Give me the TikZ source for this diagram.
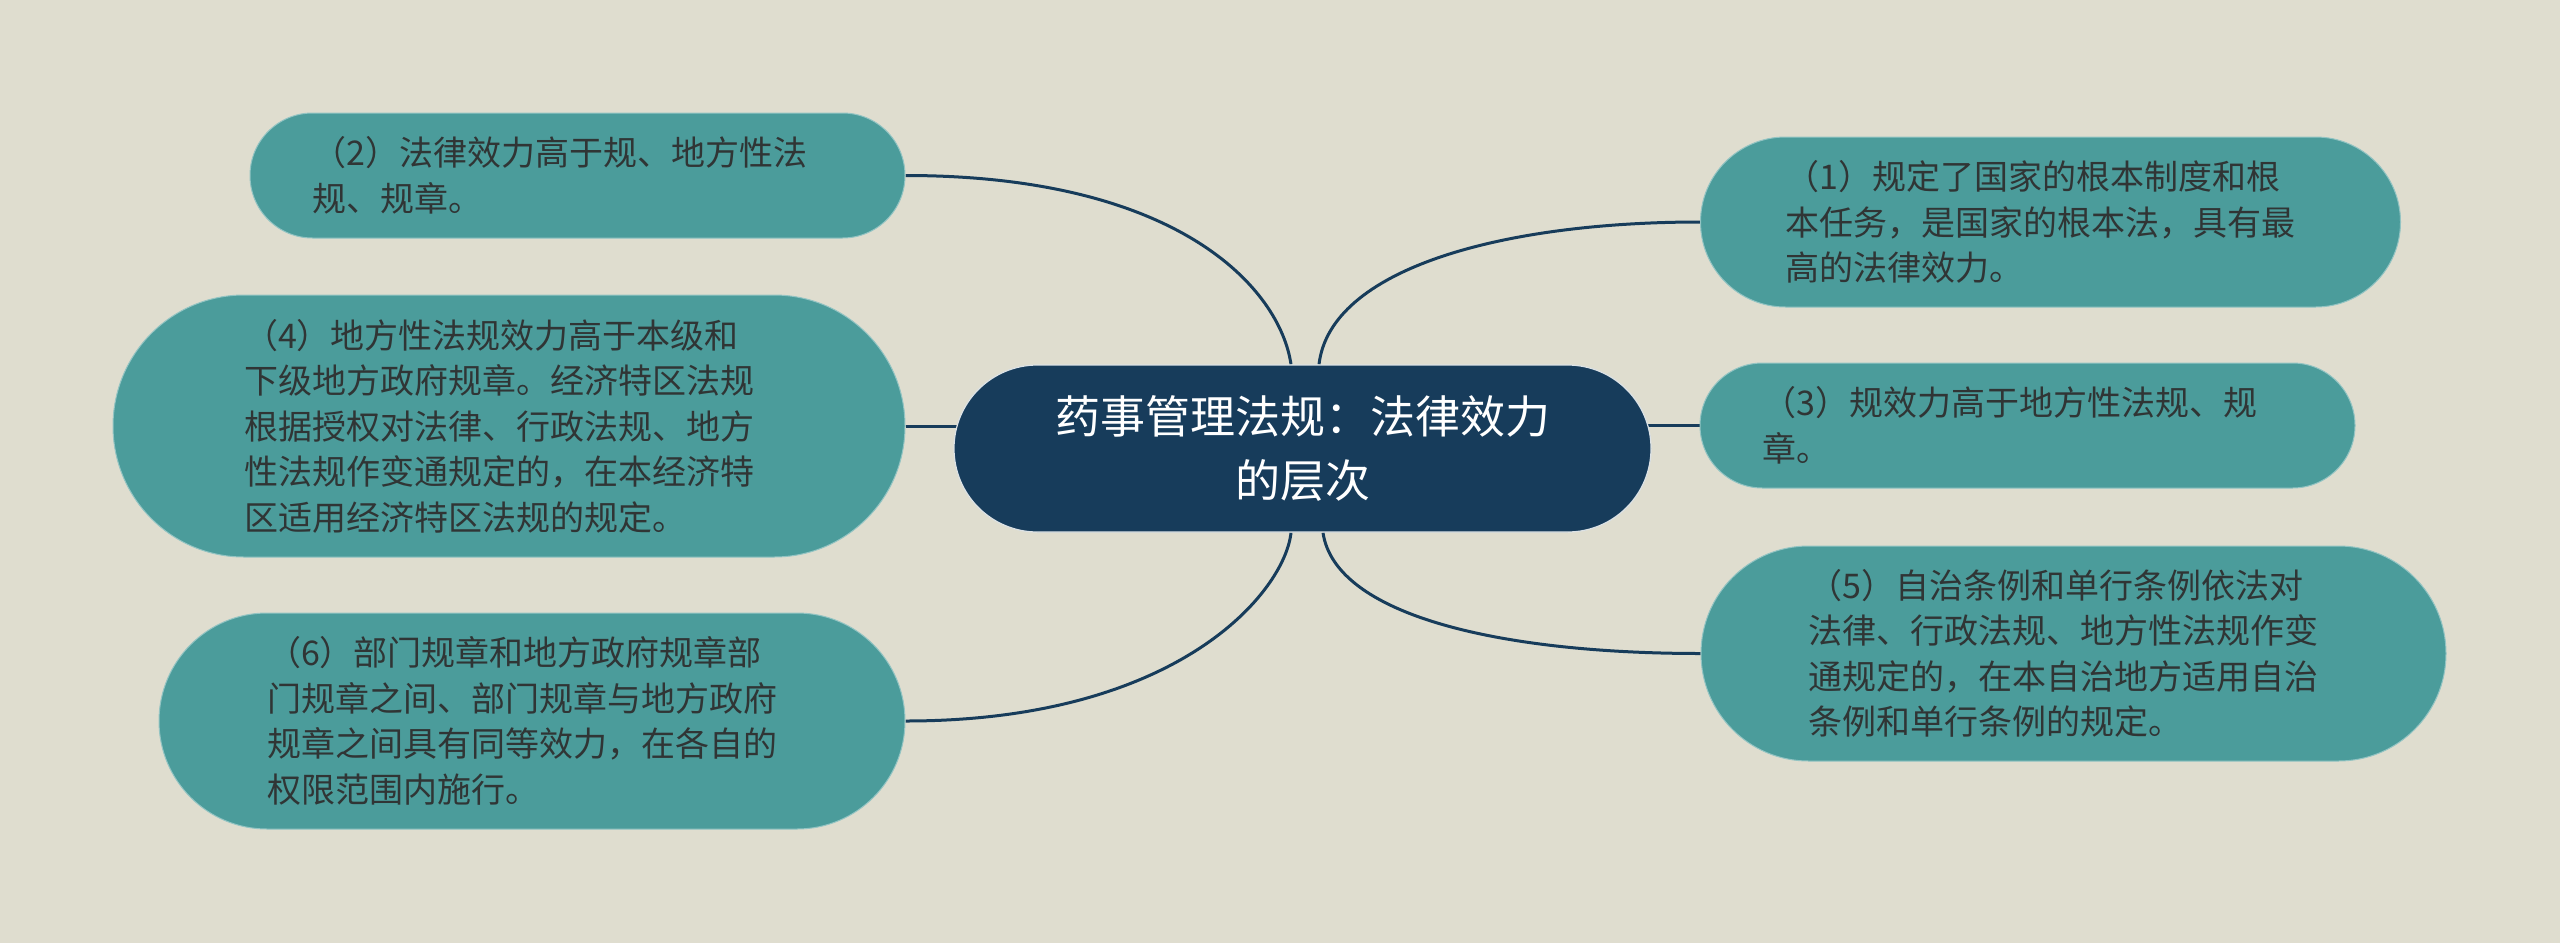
\documentclass[tikz,border=0pt]{standalone}
\usepackage{fontspec}
\newfontfamily\cjk{Noto Sans CJK SC}
\usetikzlibrary{shapes.misc,backgrounds}
\definecolor{bg}{HTML}{DFDDCF}
\definecolor{teal1}{HTML}{4B9C9B}
\definecolor{navy}{HTML}{173C5B}
\definecolor{txt}{HTML}{303535}
\tikzset{
  leaf/.style={rounded rectangle, fill=teal1, draw=teal1!60!white, line width=1pt,
    inner xsep=0pt, inner ysep=0pt, text width=530pt, align=left,
    font=\cjk\fontsize{34}{45.5}\selectfont, text=txt},
  hub/.style={rounded rectangle, fill=navy, draw=white!85!navy, line width=1.2pt,
    inner xsep=0pt, inner ysep=0pt, text width=530pt, align=center,
    font=\cjk\fontsize{45}{64}\selectfont, text=white,
    minimum height=167pt, minimum width=697pt},
  link/.style={draw=navy, line width=3pt}
}
\begin{document}
\begin{tikzpicture}[x=1pt,y=-1pt]
\useasboundingbox (0,0) rectangle (2560,943);

\node[hub] (c) at (1302.5,448.5) {药事管理法规：法律效力\\的层次};

\node[leaf, minimum height=125pt, minimum width=655pt] (n2) at (577.5,175.5)
  {（2）法律效力高于规、地方性法\\规、规章。};
\node[leaf, minimum height=262pt, minimum width=792pt] (n4) at (509,426)
  {（4）地方性法规效力高于本级和\\下级地方政府规章。经济特区法规\\根据授权对法律、行政法规、地方\\性法规作变通规定的，在本经济特\\区适用经济特区法规的规定。};
\node[leaf, minimum height=216pt, minimum width=746pt] (n6) at (532,721)
  {（6）部门规章和地方政府规章部\\门规章之间、部门规章与地方政府\\规章之间具有同等效力，在各自的\\权限范围内施行。};
\node[leaf, minimum height=170pt, minimum width=700pt] (n1) at (2050.5,222)
  {（1）规定了国家的根本制度和根\\本任务，是国家的根本法，具有最\\高的法律效力。};
\node[leaf, minimum height=125pt, minimum width=655pt] (n3) at (2027.5,425.5)
  {（3）规效力高于地方性法规、规\\章。};
\node[leaf, minimum height=215pt, minimum width=745pt] (n5) at (2073.5,653.5)
  {（5）自治条例和单行条例依法对\\法律、行政法规、地方性法规作变\\通规定的，在本自治地方适用自治\\条例和单行条例的规定。};

\begin{scope}[on background layer]
  \fill[bg] (0,0) rectangle (2560,943);
  \draw[link] ([xshift=-11.5pt]c.north) .. controls +(-11,-75) and +(275,0) .. (n2.east);
  \draw[link] ([xshift=-11.5pt]c.south) .. controls +(-6,58) and +(275,0) .. (n6.east);
  \draw[link] ([xshift=16.5pt]c.north) .. controls +(11,-95) and +(-200,0) .. (n1.west);
  \draw[link] ([xshift=20.5pt]c.south) .. controls +(12,83) and +(-200,0) .. (n5.west);
  \draw[link] (n4.east) -- ([xshift=20pt]n4.east -| c.west);
  \draw[link] (n3.west) -- ([xshift=-20pt]n3.west -| c.east);
\end{scope}
\end{tikzpicture}
\end{document}
